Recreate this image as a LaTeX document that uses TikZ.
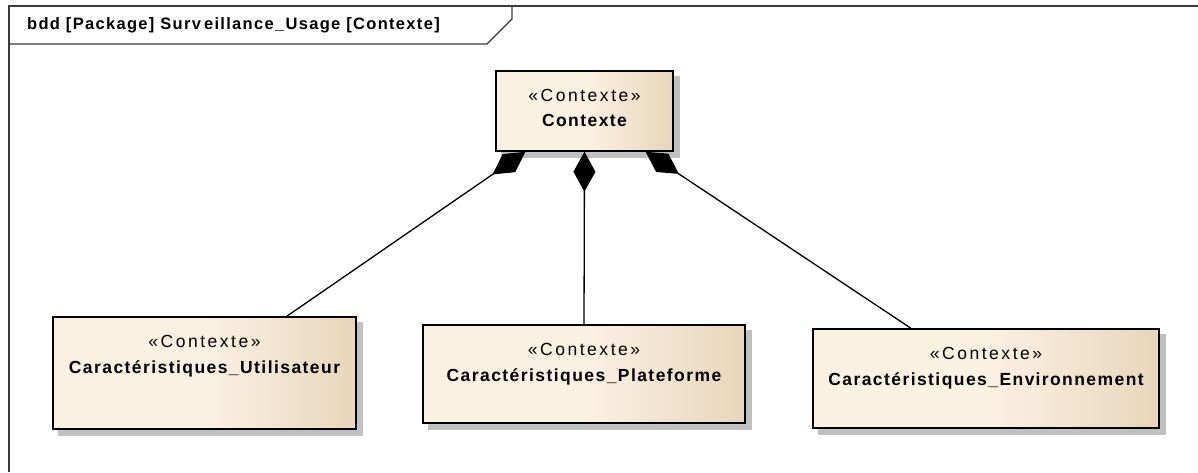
\documentclass[tikz,border=0pt]{standalone}
\usepackage{fontspec}
\setmainfont{Liberation Sans}
\newfontfamily\stfont{Liberation Sans}[LetterSpace=14.5]
\newfontfamily\bdfont{Liberation Sans Bold}[LetterSpace=8.2]
\newfontfamily\ttlfont{Liberation Sans Bold}[LetterSpace=8]
\usetikzlibrary{arrows.meta,backgrounds}
\definecolor{boxL}{RGB}{251,241,227}
\definecolor{boxR}{RGB}{232,214,187}
\definecolor{shadowc}{RGB}{192,192,192}
\definecolor{framec}{RGB}{60,60,60}
\tikzset{
  blk/.style={draw=black, line width=1.5pt, inner sep=0pt, left color=boxL, right color=boxR, middle color=boxL},
  stereo/.style={anchor=base, inner sep=0pt, font=\stfont\fontsize{17.5}{20}\selectfont},
  bname/.style={anchor=base, inner sep=0pt, font=\bdfont\fontsize{17.5}{20}\selectfont},
  comp/.style={line width=1.3pt, arrows={Diamond[length=40pt,width=22pt]-}},
  framel/.style={draw=framec, line width=1.2pt},
}
\begin{document}
\begin{tikzpicture}[x=1pt,y=-1pt]
\useasboundingbox (0,0) rectangle (1198,472);
% frame
\draw[framel] (9,472) -- (9,6) -- (1198,6);
\draw[framel] (9,44) -- (487,44) -- (512,19) -- (512,6);
\node[anchor=base west, inner sep=0pt, font=\ttlfont\fontsize{16.5}{19}\selectfont] (ttl) at (27,29.5)
  {bdd [Package] Surv\kern3pt eillance\_Usage [Contexte]};
% blocks
\node[blk, minimum width=177pt, minimum height=80pt] (ctx) at (584.5,111) {};
\node[blk, minimum width=303pt, minimum height=112pt] (util) at (204.5,373) {};
\node[blk, minimum width=322pt, minimum height=98pt] (plat) at (584,374) {};
\node[blk, minimum width=346pt, minimum height=99pt] (env) at (986,378.5) {};
% shadows
\begin{scope}[on background layer]
\foreach \n in {ctx,util,plat,env}
  \fill[shadowc] ([shift={(6,6)}]\n.south west) rectangle ([shift={(6,6)}]\n.north east);
\end{scope}
% texts
\node[stereo] (ctxs) at ([yshift=-31pt]ctx.north) {«Contexte»};
\node[bname] (ctxn) at ([yshift=-56.5pt]ctx.north) {Contexte};
\node[stereo] (utils) at ([yshift=-31pt]util.north) {«Contexte»};
\node[bname] (utiln) at ([yshift=-57pt]util.north) {Caractéristiques\_Utilisateur};
\node[stereo] (plats) at ([yshift=-31pt]plat.north) {«Contexte»};
\node[bname] (platn) at ([yshift=-57pt]plat.north) {Caractéristiques\_Plateforme};
\node[stereo] (envs) at ([yshift=-31pt]env.north) {«Contexte»};
\node[bname] (envn) at ([yshift=-57pt]env.north) {Caractéristiques\_Env\kern1pt ironnement};
% connectors
\draw[comp] (ctx) -- (util);
\draw[comp] (ctx.south) -- (plat.north);
\draw[comp] (ctx) -- (env);
\end{tikzpicture}
\end{document}
